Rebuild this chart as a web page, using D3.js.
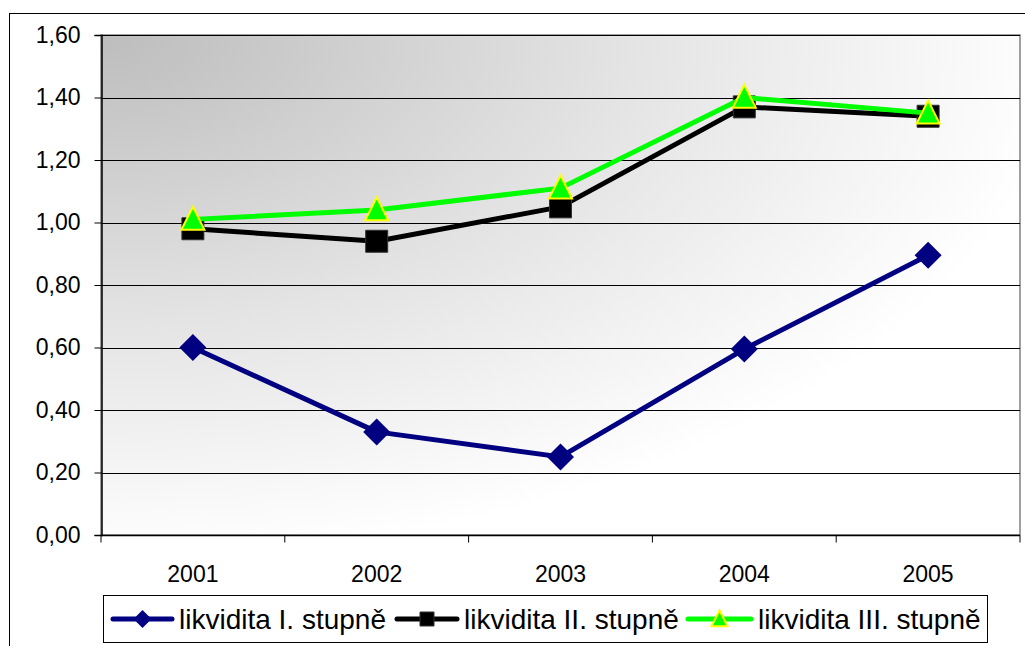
<!DOCTYPE html>
<html>
<head>
<meta charset="utf-8">
<script src="https://cdn.jsdelivr.net/npm/d3@7"></script>
<style>
body { margin: 0; background: #fff; }
text { font-family: "Liberation Sans", Arial, sans-serif; fill: #000; }
</style>
</head>
<body>
<svg id="chart" width="1025" height="646"></svg>
<script>
const years = ["2001", "2002", "2003", "2004", "2005"];
const likvidita1 = [0.60, 0.33, 0.25, 0.595, 0.895];
const likvidita2 = [0.98, 0.94, 1.05, 1.37, 1.34];
const likvidita3 = [1.01, 1.04, 1.11, 1.40, 1.35];
const seriesNames = ["likvidita I. stupně", "likvidita II. stupně", "likvidita III. stupně"];
const yTicks = [0, 0.2, 0.4, 0.6, 0.8, 1.0, 1.2, 1.4, 1.6];

const svg = d3.select("#chart");
const plot = { left: 101, right: 1020, top: 35, bottom: 535 };

const x = d3.scaleBand().domain(years).range([plot.left, plot.right]);
const y = d3.scaleLinear().domain([0, 1.6]).range([plot.bottom, plot.top]);
const cx = d => x(d) + x.bandwidth() / 2;
const fmt = v => d3.format(".2f")(v).replace(".", ",");

// outer chart border
svg.append("rect")
	.attr("x", 9.5).attr("y", 13.5)
	.attr("width", 1040).attr("height", 660)
	.attr("fill", "none").attr("stroke", "#000").attr("stroke-width", 1);

// plot background
const defs = svg.append("defs");
const grad = defs.append("radialGradient")
	.attr("id", "bg")
	.attr("cx", 0).attr("cy", 0).attr("r", 1.05).attr("fx", 0).attr("fy", 0);
grad.append("stop").attr("offset", "0").attr("stop-color", "#bdbdbd");
grad.append("stop").attr("offset", "0.55").attr("stop-color", "#e4e4e4");
grad.append("stop").attr("offset", "1").attr("stop-color", "#ffffff");

svg.append("rect")
	.attr("x", plot.left).attr("y", plot.top)
	.attr("width", plot.right - plot.left).attr("height", plot.bottom - plot.top)
	.attr("fill", "url(#bg)")
	.attr("stroke", "#808080").attr("stroke-width", 1.5);

// gridlines
svg.append("g")
	.selectAll("line")
	.data(yTicks.filter(t => t > 0))
	.enter()
	.append("line")
	.attr("x1", plot.left).attr("x2", plot.right)
	.attr("y1", d => Math.round(y(d)) + 0.5).attr("y2", d => Math.round(y(d)) + 0.5)
	.attr("stroke", "#000").attr("stroke-width", 1);

// y axis
const yAxis = svg.append("g").attr("transform", `translate(${plot.left + 0.5},0)`)
	.call(d3.axisLeft(y).tickValues(yTicks).tickFormat(fmt).tickSize(7).tickPadding(14));
yAxis.select(".domain").attr("stroke", "#000").attr("stroke-width", 1.5);
yAxis.selectAll("text").style("font-size", "23px").attr("fill", "#000");

// x axis
const xAxis = svg.append("g").attr("transform", `translate(0,${plot.bottom + 0.5})`);
xAxis.append("line")
	.attr("x1", plot.left).attr("x2", plot.right)
	.attr("stroke", "#000").attr("stroke-width", 1.5);
xAxis.selectAll(".tk")
	.data(years.map(d => x(d)).concat([plot.right]))
	.enter()
	.append("line")
	.attr("class", "tk")
	.attr("x1", d => d).attr("x2", d => d)
	.attr("y1", 0).attr("y2", 7)
	.attr("stroke", "#000");
xAxis.selectAll("text")
	.data(years)
	.enter()
	.append("text")
	.attr("x", d => cx(d))
	.attr("y", 46)
	.attr("text-anchor", "middle")
	.style("font-size", "23px")
	.text(d => d);

// markers
function diamond(s) {
	return `M0,${-s}L${s},0L0,${s}L${-s},0Z`;
}
function square(s) {
	return `M${-s},${-s}H${s}V${s}H${-s}Z`;
}
function triangle(s) {
	return `M0,${-s * 1.1}L${s},${s * 0.9}L${-s},${s * 0.9}Z`;
}

const series = [
	{ name: seriesNames[0], values: likvidita1, color: "#000080", marker: diamond, size: 13.5, fill: "#000080", stroke: "#000080", ms: 0 },
	{ name: seriesNames[1], values: likvidita2, color: "#000000", marker: square, size: 11, fill: "#000000", stroke: "#333", ms: 1 },
	{ name: seriesNames[2], values: likvidita3, color: "#00ff00", marker: triangle, size: 11.5, fill: "#00ff00", stroke: "#ffff00", ms: 2 }
];

const line = d3.line().x((d, i) => cx(years[i])).y(d => y(d));

series.forEach(s => {
	const g = svg.append("g");
	g.append("path")
		.attr("d", line(s.values))
		.attr("fill", "none")
		.attr("stroke", s.color)
		.attr("stroke-width", 5)
		.attr("stroke-linejoin", "round");
	g.selectAll("path.m")
		.data(s.values)
		.enter()
		.append("path")
		.attr("class", "m")
		.attr("transform", (d, i) => `translate(${cx(years[i])},${y(d)})`)
		.attr("d", s.marker(s.size))
		.attr("fill", s.fill)
		.attr("stroke", s.stroke)
		.attr("stroke-width", s.ms);
});

// legend
const legend = svg.append("g");
legend.append("rect")
	.attr("x", 103.5).attr("y", 595.5)
	.attr("width", 884).attr("height", 47)
	.attr("fill", "#fff").attr("stroke", "#000").attr("stroke-width", 1);

const legendX = [113, 397, 688];
const legendW = [59, 60, 63];
const legendSize = [9, 7, 8];
series.forEach((s, i) => {
	const g = legend.append("g").attr("transform", `translate(${legendX[i]},619)`);
	g.append("line")
		.attr("x1", 0).attr("x2", legendW[i])
		.attr("stroke", s.color).attr("stroke-width", 5).attr("stroke-linecap", "round");
	g.append("path")
		.attr("transform", `translate(${legendW[i] / 2},0)`)
		.attr("d", s.marker(legendSize[i]))
		.attr("fill", s.fill)
		.attr("stroke", s.stroke)
		.attr("stroke-width", s.ms);
	g.append("text")
		.attr("x", legendW[i] + 7)
		.attr("y", 10)
		.style("font-size", "28px")
		.text(s.name);
});
</script>
</body>
</html>
